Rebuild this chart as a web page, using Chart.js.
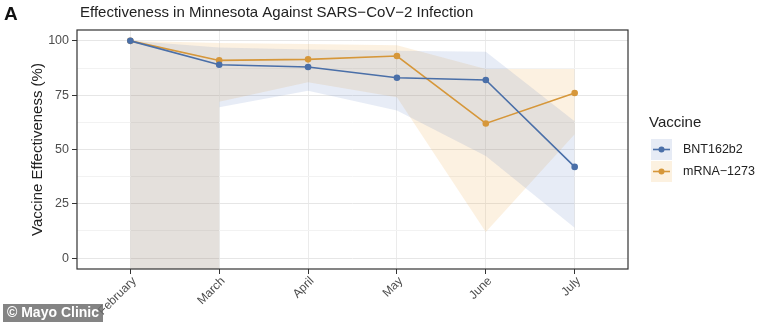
<!DOCTYPE html>
<html>
<head>
<meta charset="utf-8">
<script src="https://cdn.jsdelivr.net/npm/chart.js@4/dist/chart.umd.min.js"></script>
<style>
  body { margin: 0; background: #fff; }
  #wrap { position: relative; width: 757px; height: 324px; }
  .wm {
    position: absolute; left: 3px; top: 304px; height: 18px; line-height: 18px;
    padding: 0 4px; background: rgba(110,110,110,0.85); color: #fff;
    font: bold 14px "Liberation Sans", Arial, sans-serif;
  }
</style>
</head>
<body>
<div id="wrap">
  <canvas id="chart" width="757" height="324"></canvas>
  <div class="wm">© Mayo Clinic</div>
</div>
<script>
// Data
const months = ['February', 'March', 'April', 'May', 'June', 'July'];
const bntVE = [100, 89, 88, 83, 82, 42];
const mrnaVE = [100, 91, 91.5, 93, 62, 76];
const bntUpper = [100, 97, 96, 95.5, 95, 63];
const bntLower = [null, 69.5, 77, 68, 47, 14];
const mrnaUpper = [100, 99, 98.5, 98, 87, 87];
const mrnaLower = [null, 72, 81, 74, 12, 57];
const openLower = -5; // Feb lower bound runs off the bottom of the axis (through March)
const yTicks = [0, 12.5, 25, 37.5, 50, 62.5, 75, 87.5, 100];

const BLUE = '#4a6fa8';
const ORANGE = '#d6973a';
const FONT = '"Liberation Sans", Arial, sans-serif';

function seg(arr, from, to) {
    const out = [];
    for (let i = from; i <= to; i++) out.push({ x: i, y: arr[i] });
    return out;
}
function flat(v, from, to) {
    const out = [];
    for (let i = from; i <= to; i++) out.push({ x: i, y: v });
    return out;
}

function line(label, arr, color) {
    return {
        label: label, data: seg(arr, 0, arr.length - 1), borderColor: color, backgroundColor: color,
        borderWidth: 1.6, pointRadius: 3.3, pointBorderWidth: 0, fill: false, order: 0
    };
}
function band(data, fillTo, color) {
    return {
        data: data, borderColor: 'transparent', borderWidth: 0, pointRadius: 0,
        backgroundColor: color, fill: fillTo === null ? false : { target: fillTo }, order: 1
    };
}

const blueFill = 'rgba(68,108,188,0.13)';
const tanFill = 'rgba(235,170,75,0.17)';

const datasets = [
    line('BNT162b2', bntVE, BLUE),                       // 0
    line('mRNA\u22121273', mrnaVE, ORANGE),              // 1
    band(seg(bntUpper, 0, 1), 3, blueFill),              // 2
    band(flat(openLower, 0, 1), null, blueFill),         // 3
    band(seg(mrnaUpper, 0, 1), 5, tanFill),              // 4
    band(flat(openLower, 0, 1), null, tanFill),          // 5
    band(seg(bntUpper, 1, 5), 7, blueFill),              // 6
    band(seg(bntLower, 1, 5), null, blueFill),           // 7
    band(seg(mrnaUpper, 1, 5), 9, tanFill),              // 8
    band(seg(mrnaLower, 1, 5), null, tanFill)            // 9
];

const decor = {
    id: 'decor',
    afterDraw(chart) {
        const ctx = chart.ctx;
        const a = chart.chartArea;
        ctx.save();
        // panel border
        ctx.strokeStyle = '#333';
        ctx.lineWidth = 1.2;
        ctx.strokeRect(a.left, a.top, a.right - a.left, a.bottom - a.top);
        // panel letter + title
        ctx.fillStyle = '#111';
        ctx.textBaseline = 'middle';
        ctx.font = 'bold 19px ' + FONT;
        ctx.fillText('A', 4, 15);
        ctx.fillStyle = '#222';
        ctx.font = '15px ' + FONT;
        ctx.fillText('Effectiveness in Minnesota Against SARS\u2212CoV\u22122 Infection', 80, 13);
        // legend
        ctx.font = '15px ' + FONT;
        ctx.fillText('Vaccine', 649, 123);
        const keys = [
            { label: 'BNT162b2', color: BLUE, bg: '#e6ebf5', y: 149 },
            { label: 'mRNA\u22121273', color: ORANGE, bg: '#fcf1e0', y: 171 }
        ];
        keys.forEach(k => {
            ctx.fillStyle = k.bg;
            ctx.fillRect(651, k.y - 10, 21, 21);
            ctx.strokeStyle = k.color;
            ctx.lineWidth = 1.6;
            ctx.beginPath();
            ctx.moveTo(653, k.y + 0.5);
            ctx.lineTo(670, k.y + 0.5);
            ctx.stroke();
            ctx.fillStyle = k.color;
            ctx.beginPath();
            ctx.arc(661.5, k.y + 0.5, 3, 0, Math.PI * 2);
            ctx.fill();
            ctx.fillStyle = '#222';
            ctx.font = '12.5px ' + FONT;
            ctx.fillText(k.label, 683, k.y + 1);
        });
        ctx.restore();
    }
};

new Chart(document.getElementById('chart'), {
    type: 'line',
    data: { datasets: datasets },
    options: {
        responsive: false,
        animation: false,
        layout: { padding: { left: 0, top: 30, right: 129, bottom: 0 } },
        plugins: { legend: { display: false }, title: { display: false }, tooltip: { enabled: false } },
        scales: {
            x: {
                type: 'linear', min: -0.6, max: 5.6,
                afterBuildTicks: s => { s.ticks = months.map((m, i) => ({ value: i })); },
                afterFit: s => { s.height = 55; },
                ticks: {
                    autoSkip: false, maxRotation: 45, minRotation: 45, padding: 0, labelOffset: 4,
                    color: '#4d4d4d', font: { family: FONT, size: 12 },
                    callback: v => months[v]
                },
                grid: { color: '#ebebeb', tickColor: '#333', tickLength: 5 },
                border: { display: false }
            },
            y: {
                min: -5, max: 105,
                afterBuildTicks: s => { s.ticks = yTicks.map(v => ({ value: v })); },
                afterFit: s => { s.width = 77; },
                ticks: {
                    autoSkip: false, padding: 3, color: '#4d4d4d', font: { family: FONT, size: 12.5 },
                    callback: v => (v % 25 === 0 ? String(v) : '')
                },
                grid: {
                    color: c => (c.tick && c.tick.value % 25 === 0 ? '#e6e6e6' : '#f2f2f2'),
                    tickColor: c => (c.tick && c.tick.value % 25 === 0 ? '#333' : 'rgba(0,0,0,0)'),
                    tickLength: 5
                },
                border: { display: false },
                title: {
                    display: true, text: 'Vaccine Effectiveness (%)', color: '#222',
                    font: { family: FONT, size: 15 }, padding: { top: 29, bottom: 0 }
                }
            }
        }
    },
    plugins: [decor]
});
</script>
</body>
</html>
